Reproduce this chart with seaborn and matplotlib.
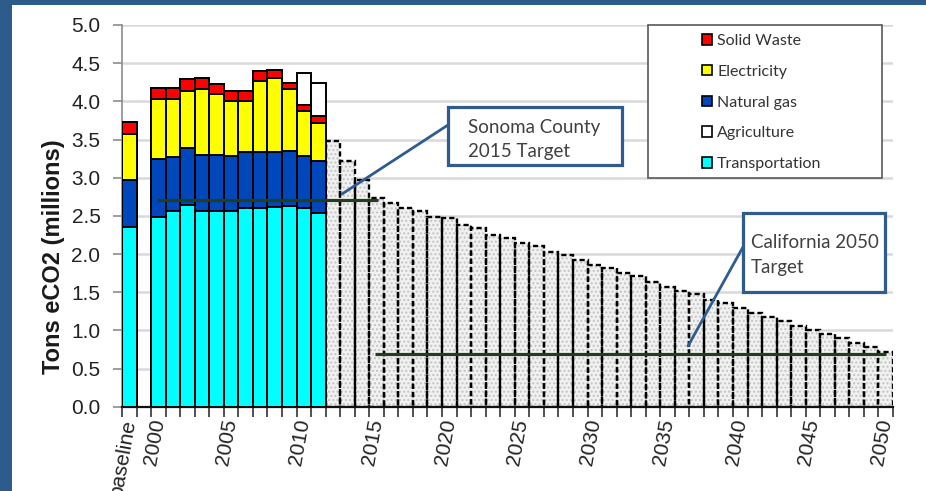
import numpy as np
import pandas as pd
import matplotlib
matplotlib.use('Agg')
import matplotlib.pyplot as plt
import seaborn as sns
from matplotlib.patches import Rectangle, Patch
from matplotlib.lines import Line2D

sns.set_theme(style='white')
plt.rcParams['font.family'] = ['Liberation Sans', 'DejaVu Sans']

# --- 데이터 (그림에서 읽은 값, 단위: 백만 톤 eCO2) ---
years = [str(y) for y in range(2000, 2051)]
categories = ['baseline', ' '] + years

hist_labels = ['baseline', '2000', '2001', '2002', '2003', '2004', '2005',
               '2006', '2007', '2008', '2009', '2010', '2011']
transportation = [2.35, 2.49, 2.56, 2.64, 2.56, 2.57, 2.57, 2.60, 2.60, 2.61, 2.63, 2.60, 2.54]
natural_gas = [0.62, 0.76, 0.71, 0.75, 0.74, 0.73, 0.72, 0.73, 0.73, 0.72, 0.72, 0.69, 0.68]
electricity = [0.60, 0.78, 0.76, 0.74, 0.86, 0.80, 0.71, 0.67, 0.93, 0.97, 0.81, 0.58, 0.49]
solid_waste = [0.16, 0.14, 0.14, 0.16, 0.14, 0.13, 0.13, 0.13, 0.14, 0.11, 0.08, 0.08, 0.10]
agriculture = [0.00, 0.00, 0.00, 0.00, 0.00, 0.00, 0.00, 0.00, 0.00, 0.00, 0.00, 0.42, 0.43]

proj_labels = [str(y) for y in range(2012, 2051)]
projection = [3.48, 3.22, 2.97, 2.74, 2.67, 2.60, 2.56, 2.49, 2.47, 2.38,
              2.34, 2.25, 2.21, 2.14, 2.10, 2.03, 1.99, 1.92, 1.86, 1.82,
              1.75, 1.71, 1.64, 1.57, 1.52, 1.47, 1.40, 1.36, 1.29, 1.23,
              1.18, 1.12, 1.06, 1.01, 0.95, 0.90, 0.83, 0.78, 0.72]

sonoma_target = 2.71
california_target = 0.69

tick_labels = ['baseline', '2000', '2005', '2010', '2015', '2020', '2025',
               '2030', '2035', '2040', '2045', '2050']

legend_names = ['Solid Waste', 'Electricity', 'Natural gas', 'Agriculture', 'Transportation']
legend_colors = ['#FF0000', '#FFFF00', '#0047BB', '#FFFFFF', '#00FFFF']

# --- 누적 (stacked) 계산 ---
df_hist = pd.DataFrame({'label': hist_labels, 'Transportation': transportation,
                        'Natural gas': natural_gas, 'Electricity': electricity,
                        'Solid Waste': solid_waste, 'Agriculture': agriculture})
stack_order = ['Transportation', 'Natural gas', 'Electricity', 'Solid Waste', 'Agriculture']
stack_colors = {'Transportation': '#00FFFF', 'Natural gas': '#0047BB', 'Electricity': '#FFFF00',
                'Solid Waste': '#FF0000', 'Agriculture': '#FFFFFF'}
df_cum = df_hist[stack_order].cumsum(axis=1)
df_cum['label'] = df_hist['label']

df_proj = pd.DataFrame({'label': proj_labels, 'value': projection})

W, H = 926, 491
def px(x, y):
    return (x / W, 1 - y / H)

fig = plt.figure(figsize=(W / 100, H / 100), dpi=100)
ax = fig.add_axes([122 / W, 1 - 406.7 / H, (893 - 122) / W, (406.7 - 25) / H])

# 미래 전망 막대 (점무늬 채우기 + 점선 테두리)
sns.barplot(data=df_proj, x='label', y='value', order=categories, color='#F1F1F1',
            saturation=1, width=1.0, errorbar=None, edgecolor='#C4C4C4', linewidth=0,
            hatch='....', ax=ax, zorder=2)
sns.barplot(data=df_proj, x='label', y='value', order=categories, color='black',
            fill=False, saturation=1, width=1.0, errorbar=None, linewidth=1.7,
            linestyle=(0, (2.2, 1.3)), ax=ax, zorder=2.5)

# 과거 배출량 누적 막대: 위에서부터 그림
for name in reversed(stack_order):
    sns.barplot(data=df_cum, x='label', y=name, order=categories, color=stack_colors[name],
                saturation=1, width=1.0, errorbar=None, edgecolor='black', linewidth=1.4,
                ax=ax, zorder=3)

# 목표선
pos = {c: i for i, c in enumerate(categories)}
ax.hlines(sonoma_target, pos['2000'] - 0.1, pos['2015'] + 0.1, color='#1F3F1F', lw=2.3, zorder=5)
ax.hlines(california_target, pos['2015'] - 0.1, pos['2050'], color='#1F3F1F', lw=2.3, zorder=5)

# 축 설정
ax.set_xlim(-0.5, len(categories) - 0.5)
ax.set_ylim(0, 5)
ax.set_yticks(np.arange(0, 5.01, 0.5))
ax.set_yticklabels([f'{v:.1f}' for v in np.arange(0, 5.01, 0.5)])
ax.yaxis.grid(True, color='#D9D9D9', lw=1.8)
ax.xaxis.grid(False)
ax.set_axisbelow(True)

ax.set_xticks(np.arange(-0.5, len(categories), 1.0))
ax.set_xticklabels([])
ax.set_xticks([pos[t] for t in tick_labels], minor=True)
ax.set_xticklabels(tick_labels, minor=True, rotation=80, ha='right', va='center',
                   rotation_mode='anchor', fontsize=15, color='#222222')
ax.tick_params(axis='x', which='major', direction='out', length=7, width=1.2, color='#333333', bottom=True)
ax.tick_params(axis='x', which='minor', length=0, pad=9, bottom=True)
ax.tick_params(axis='y', direction='out', length=6.5, width=1.2, color='#8C8C8C', pad=9,
               labelsize=15, labelcolor='#222222', left=True)

for s in ['top', 'right']:
    ax.spines[s].set_visible(False)
ax.spines['left'].set_color('#8C8C8C')
ax.spines['left'].set_linewidth(1.2)
ax.spines['bottom'].set_color('#111111')
ax.spines['bottom'].set_linewidth(1.6)

ax.set_xlabel('')
ax.set_ylabel('Tons eCO2 (millions)', fontsize=17, fontweight='bold', color='#1A1A1A')
ax.yaxis.set_label_coords(-0.074, 0.392)

# 범례 (엑셀 스타일 상자)
ax.add_patch(Rectangle(px(648, 178), (882 - 648) / W, (178 - 25) / H, transform=fig.transFigure,
                       facecolor='white', edgecolor='#595959', lw=1.2, clip_on=False, zorder=6))
handles = [Patch(facecolor=c, edgecolor='black', linewidth=1.2) for c in legend_colors]
leg = ax.legend(handles, legend_names, loc='upper left', bbox_to_anchor=px(702, 34),
                bbox_transform=fig.transFigure, frameon=False, borderpad=0, borderaxespad=0,
                handlelength=0.65, handleheight=0.65, handletextpad=0.3, labelspacing=1.05,
                prop={'family': 'Lato', 'size': 11.5}, labelcolor='#333333')
leg.set_zorder(7)

# 주석 상자 (목표)
box_c = '#2F5B8E'
ax.add_line(Line2D([448 / W, 342 / W], [1 - 125 / H, 1 - 194 / H], transform=fig.transFigure,
                   color=box_c, lw=2, zorder=6, clip_on=False))
ax.add_line(Line2D([743 / W, 688 / W], [1 - 247 / H, 1 - 346 / H], transform=fig.transFigure,
                   color=box_c, lw=2, zorder=6, clip_on=False))
ax.add_patch(Rectangle(px(448, 165), (622 - 448) / W, (165 - 107) / H, transform=fig.transFigure,
                       facecolor='white', edgecolor=box_c, lw=2.3, clip_on=False, zorder=7))
ax.add_patch(Rectangle(px(743, 292), (885 - 743) / W, (292 - 213) / H, transform=fig.transFigure,
                       facecolor='white', edgecolor=box_c, lw=2.3, clip_on=False, zorder=7))
txt = dict(transform=fig.transFigure, fontsize=13.5, family='Lato', color='#404040',
           va='baseline', ha='left', zorder=8)
ax.text(*px(468, 133), 'Sonoma County', **txt)
ax.text(*px(468, 157), '2015 Target', **txt)
ax.text(*px(751, 248), 'California 2050', **txt)
ax.text(*px(751, 273), 'Target', **txt)

# 파란 테두리
fig.patches.append(Rectangle((0, 0), 12 / W, 1, transform=fig.transFigure,
                             facecolor='#2C5B8C', edgecolor='none', zorder=20))
fig.patches.append(Rectangle((0, 1 - 5 / H), 1, 5 / H, transform=fig.transFigure,
                             facecolor='#2C5B8C', edgecolor='none', zorder=20))

fig.savefig('out.png', dpi=100)
